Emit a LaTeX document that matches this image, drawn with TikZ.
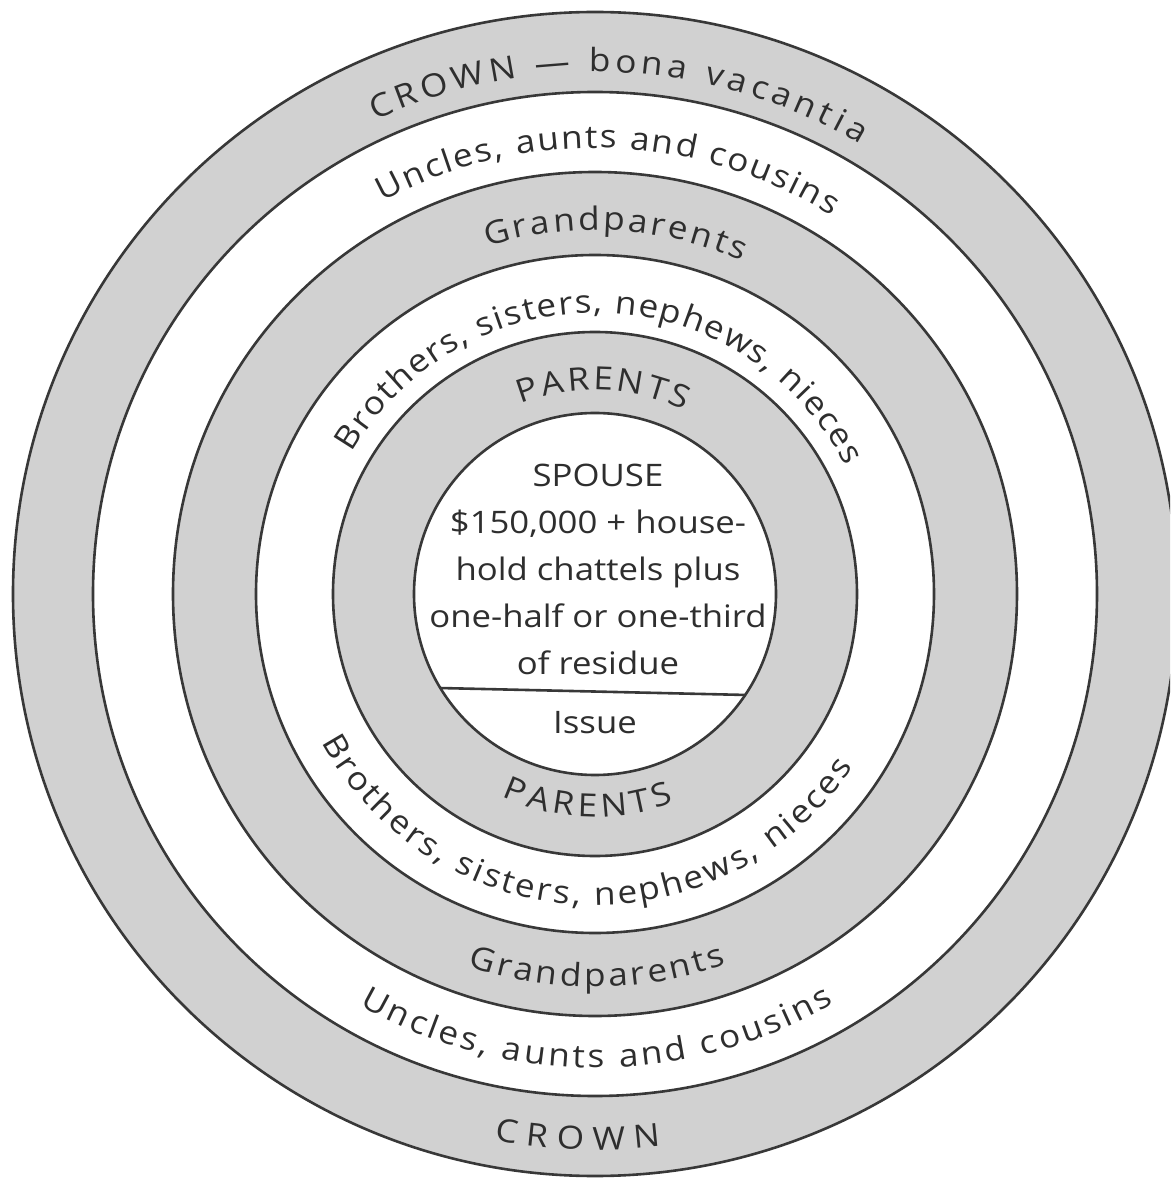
\documentclass[tikz,border=0pt]{standalone}
\usepackage{fontspec}
\setmainfont{Open Sans}
\newfontfamily\arcfam[FakeStretch=1.1]{Open Sans}
\newfontfamily\inwfam[FakeStretch=1.12]{Open Sans}
\usetikzlibrary{decorations.text}
\newcommand\arcfont{\arcfam\fontsize{32}{38}\selectfont}
\begin{document}
\begin{tikzpicture}[x=1pt,y=1pt,
  ring/.style={fill=black!18},
  hole/.style={fill=white},
  edge/.style={draw=black!78, line width=2.6pt},
  arctext/.style={decorate, decoration={text along path, text align={fit to path}, text color=black!82}},
  inner/.style={align=center, text=black!82, font=\inwfam\fontsize{31}{47}\selectfont}]
\useasboundingbox (-595,-588) rectangle (575,594);
\clip (-595,-588) rectangle (575,594);
\fill[white] (-595,-588) rectangle (575,594);
% rings
\path[ring] (0,0) circle[radius=582];
\path[hole] (0,0) circle[radius=502];
\path[ring] (0,0) circle[radius=422];
\path[hole] (0,0) circle[radius=339];
\path[ring] (0,0) circle[radius=262];
\path[hole] (0,0) circle[radius=181];
\foreach \r in {582,502,422,339,262,181} {\draw[edge] (0,0) circle[radius=\r];}
\draw[edge] (211.3:181) -- (326.1:181);
% top texts
\path[arctext, decoration={text={|\arcfont|CROWN — bona vacantia}}] (114.9:522) arc[start angle=114.9, end angle=59.5, radius=522];
\path[arctext, decoration={text={|\arcfont|Uncles, aunts and cousins}}] (118.4:446) arc[start angle=118.4, end angle=58, radius=446];
\path[arctext, decoration={text={|\arcfont|Grandparents}}] (107.2:364) arc[start angle=107.2, end angle=66.2, radius=364];
\path[arctext, decoration={text={|\arcfont|Brothers, sisters, nephews, nieces}}] (149.8:281) arc[start angle=149.8, end angle=27, radius=281];
\path[arctext, decoration={text={|\arcfont|PARENTS}}] (111.5:204) arc[start angle=111.5, end angle=64, radius=204];
% bottom texts
\path[arctext, decoration={text={|\arcfont|PARENTS}}] (245.2:223) arc[start angle=245.2, end angle=290.8, radius=223];
\path[arctext, decoration={text={|\arcfont|Brothers, sisters, nephews, nieces}}] (208.5:311) arc[start angle=208.5, end angle=326.1, radius=311];
\path[arctext, decoration={text={|\arcfont|Grandparents}}] (251.1:393) arc[start angle=251.1, end angle=289.6, radius=393];
\path[arctext, decoration={text={|\arcfont|Uncles, aunts and cousins}}] (240.2:474) arc[start angle=240.2, end angle=300.3, radius=474];
\path[arctext, decoration={text={|\arcfont|CROWN}}] (259.6:556) arc[start angle=259.6, end angle=276.8, radius=556];
% centre
\node[inner] (spouse) at (3,25) {SPOUSE\\\$150,000 + house-\\hold chattels plus\\one-half or one-third\\of residue};
\node[inner] (issue) at (0,-129) {Issue};
\end{tikzpicture}
\end{document}
